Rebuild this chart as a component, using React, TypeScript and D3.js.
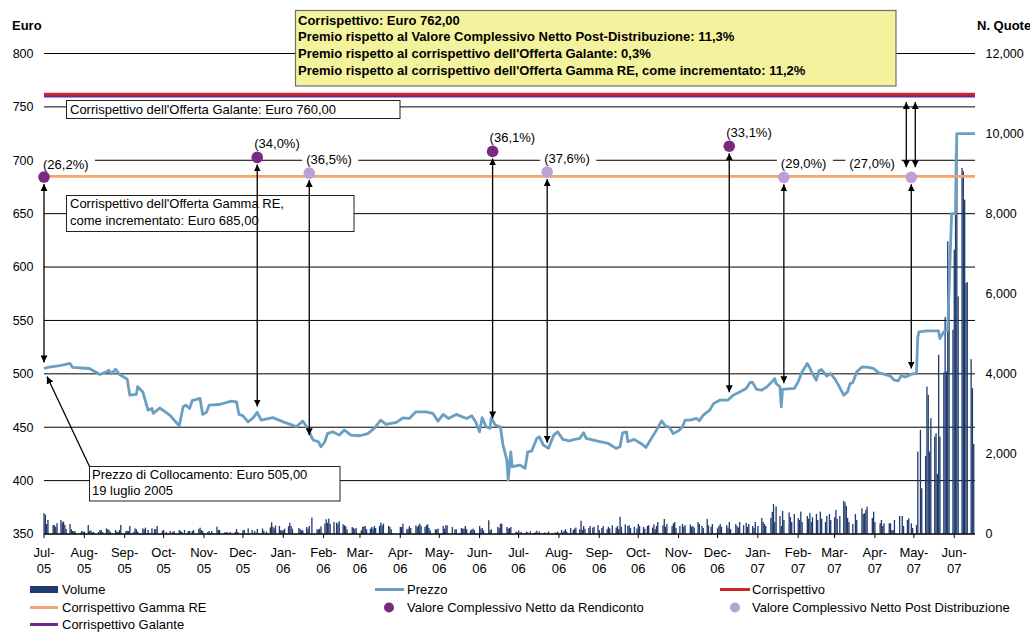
import React from "react";
import * as d3 from "d3";

const W = 1030;
const H = 632;
const FONT = "Arial, 'Liberation Sans', Helvetica, sans-serif";

// ---------- axes ----------
const axisStart = "2005-07-19";
const axisEnd = "2007-07-05";
const leftTicks = [350, 400, 450, 500, 550, 600, 650, 700, 750, 800];
const rightTicks = [0, 2000, 4000, 6000, 8000, 10000, 12000];
const monthTickDates = [
  "2005-07-19", "2005-08-19", "2005-09-19", "2005-10-19", "2005-11-19", "2005-12-19",
  "2006-01-19", "2006-02-19", "2006-03-19", "2006-04-19", "2006-05-19", "2006-06-19",
  "2006-07-19", "2006-08-19", "2006-09-19", "2006-10-19", "2006-11-19", "2006-12-19",
  "2007-01-19", "2007-02-19", "2007-03-19", "2007-04-19", "2007-05-19", "2007-06-19",
];
const monthTickLabels = [
  "Jul-05", "Aug-05", "Sep-05", "Oct-05", "Nov-05", "Dec-05",
  "Jan-06", "Feb-06", "Mar-06", "Apr-06", "May-06", "Jun-06",
  "Jul-06", "Aug-06", "Sep-06", "Oct-06", "Nov-06", "Dec-06",
  "Jan-07", "Feb-07", "Mar-07", "Apr-07", "May-07", "Jun-07",
];

// ---------- price (Euro) ----------
const priceData: [string, number][] = [
  ["2005-07-19", 505], ["2005-07-22", 506], ["2005-08-01", 508], ["2005-08-08", 509.7], ["2005-08-10", 506],
  ["2005-08-23", 505], ["2005-08-31", 499.4], ["2005-09-05", 502], ["2005-09-07", 503.4], ["2005-09-09", 500],
  ["2005-09-12", 504.4], ["2005-09-15", 499.4], ["2005-09-21", 495], ["2005-09-23", 480], ["2005-09-28", 480.7],
  ["2005-09-29", 488], ["2005-10-03", 483], ["2005-10-07", 466], ["2005-10-10", 467.6], ["2005-10-11", 463],
  ["2005-10-16", 468], ["2005-10-24", 461], ["2005-10-31", 451.3], ["2005-11-03", 469], ["2005-11-05", 470.7],
  ["2005-11-08", 467.6], ["2005-11-10", 475], ["2005-11-16", 477], ["2005-11-18", 462], ["2005-11-21", 464],
  ["2005-11-23", 470.7], ["2005-12-01", 471.3], ["2005-12-10", 474.4], ["2005-12-14", 473.8], ["2005-12-16", 462],
  ["2005-12-19", 460.7], ["2005-12-23", 455], ["2005-12-27", 459], ["2005-12-30", 464], ["2006-01-02", 456.6],
  ["2006-01-11", 459], ["2006-01-19", 455], ["2006-01-26", 452], ["2006-01-29", 450.4], ["2006-02-03", 455.7],
  ["2006-02-06", 450.4], ["2006-02-08", 445.7], ["2006-02-11", 438], ["2006-02-15", 436.4], ["2006-02-17", 431.7],
  ["2006-02-20", 436.4], ["2006-02-22", 444], ["2006-02-26", 445.7], ["2006-03-03", 442.6], ["2006-03-07", 447.3],
  ["2006-03-12", 442.6], ["2006-03-19", 442], ["2006-03-25", 444], ["2006-03-30", 448.9], ["2006-04-04", 456.6],
  ["2006-04-08", 452.6], ["2006-04-16", 454.5], ["2006-04-21", 458.8], ["2006-04-26", 458.2], ["2006-05-01", 464.4],
  ["2006-05-09", 464.4], ["2006-05-14", 463], ["2006-05-18", 455.7], ["2006-05-22", 462], ["2006-05-26", 458.2],
  ["2006-06-01", 462], ["2006-06-09", 458.2], ["2006-06-13", 460.7], ["2006-06-16", 455], ["2006-06-19", 445.7],
  ["2006-06-21", 459], ["2006-06-24", 450.4], ["2006-06-27", 448.9], ["2006-06-28", 459], ["2006-07-01", 452],
  ["2006-07-05", 450.4], ["2006-07-07", 433.3], ["2006-07-10", 419.2], ["2006-07-11", 400.5], ["2006-07-13", 427],
  ["2006-07-14", 413], ["2006-07-20", 414.6], ["2006-07-24", 411.5], ["2006-07-26", 427], ["2006-07-29", 427.6],
  ["2006-08-02", 439.5], ["2006-08-04", 441], ["2006-08-07", 433.3], ["2006-08-11", 430.2], ["2006-08-15", 442.6],
  ["2006-08-18", 445.7], ["2006-08-22", 438.6], ["2006-08-27", 437.3], ["2006-08-31", 438.6], ["2006-09-04", 439.5],
  ["2006-09-07", 444.8], ["2006-09-09", 439.5], ["2006-09-17", 437.3], ["2006-09-26", 434.8], ["2006-10-02", 430.2],
  ["2006-10-05", 431.7], ["2006-10-07", 444.8], ["2006-10-10", 445.7], ["2006-10-11", 436.4], ["2006-10-16", 438.6],
  ["2006-10-21", 434.8], ["2006-10-25", 431.1], ["2006-10-28", 437.3], ["2006-11-02", 447.3], ["2006-11-06", 456],
  ["2006-11-09", 451], ["2006-11-12", 449.8], ["2006-11-15", 444], ["2006-11-19", 446.6], ["2006-11-22", 450.4],
  ["2006-11-24", 456.6], ["2006-11-28", 456.6], ["2006-12-03", 458.2], ["2006-12-05", 456], ["2006-12-08", 461.3],
  ["2006-12-13", 466], ["2006-12-16", 472.3], ["2006-12-21", 475.4], ["2006-12-27", 475.4], ["2006-12-31", 480],
  ["2007-01-05", 483.1], ["2007-01-10", 486.3], ["2007-01-13", 491.9], ["2007-01-15", 491.9], ["2007-01-18", 485.4],
  ["2007-01-22", 484.7], ["2007-01-26", 487.8], ["2007-01-31", 494], ["2007-02-01", 495.6], ["2007-02-02", 490.9],
  ["2007-02-05", 487.8], ["2007-02-06", 469.1], ["2007-02-07", 485.4], ["2007-02-16", 486.3], ["2007-02-19", 492.5],
  ["2007-02-22", 501.8], ["2007-02-26", 509.7], ["2007-02-27", 508], ["2007-03-02", 500.3], ["2007-03-05", 494],
  ["2007-03-07", 502.8], ["2007-03-09", 504], ["2007-03-13", 497.8], ["2007-03-16", 500.3], ["2007-03-19", 495.6],
  ["2007-03-22", 489.4], ["2007-03-26", 480], ["2007-03-29", 483.1], ["2007-03-31", 491], ["2007-04-02", 491.6],
  ["2007-04-05", 501.8], ["2007-04-09", 506.5], ["2007-04-14", 506], ["2007-04-18", 505], ["2007-04-22", 500.9],
  ["2007-04-26", 499.7], ["2007-05-01", 497.8], ["2007-05-04", 494], ["2007-05-07", 493.4], ["2007-05-09", 497.8],
  ["2007-05-13", 497.2], ["2007-05-17", 499.7], ["2007-05-21", 500.3], ["2007-05-22", 534.6], ["2007-05-23", 539.3],
  ["2007-05-29", 540.2], ["2007-06-07", 540.2], ["2007-06-08", 533], ["2007-06-11", 539.3], ["2007-06-14", 540.9],
  ["2007-06-17", 650], ["2007-06-20", 650], ["2007-06-21", 725], ["2007-07-05", 725],
];

// ---------- volume (N. Quote), one value per trading day of each month ----------
const volumeMonths = [
  "2005-07", "2005-08", "2005-09", "2005-10", "2005-11", "2005-12",
  "2006-01", "2006-02", "2006-03", "2006-04", "2006-05", "2006-06",
  "2006-07", "2006-08", "2006-09", "2006-10", "2006-11", "2006-12",
  "2007-01", "2007-02", "2007-03", "2007-04", "2007-05", "2007-06", "2007-07",
];
const volumeValues: number[][] = [
  [520, 480, 250, 350, 0, 225, 220, 180, 270],
  [350, 290, 310, 225, 125, 250, 120, 75, 75, 60, 0, 30, 75, 60, 58, 225, 75, 90, 40, 50, 0, 50, 100],
  [100, 50, 140, 120, 100, 50, 0, 100, 60, 50, 100, 225, 0, 75, 80, 75, 200, 50, 140, 120, 60, 0],
  [140, 120, 160, 0, 100, 140, 0, 120, 120, 200, 0, 80, 100, 0, 50, 75, 0, 50, 75, 0, 100],
  [75, 50, 0, 100, 75, 75, 0, 75, 100, 0, 125, 158, 100, 75, 0, 50, 75, 0, 75, 0, 183, 100],
  [100, 0, 40, 45, 40, 0, 50, 0, 50, 125, 50, 0, 100, 100, 0, 0, 140, 100, 0, 75, 0, 125],
  [0, 140, 80, 0, 60, 167, 292, 183, 140, 208, 200, 92, 92, 92, 133, 192, 283, 200, 133, 0, 0, 150],
  [120, 92, 92, 175, 133, 200, 0, 408, 0, 117, 117, 133, 192, 258, 367, 283, 383, 258, 300, 0],
  [283, 258, 317, 242, 217, 192, 117, 0, 175, 150, 117, 150, 0, 92, 175, 192, 200, 117, 133, 175, 133, 200, 150],
  [200, 283, 217, 258, 0, 200, 175, 117, 0, 0, 0, 0, 175, 175, 258, 117, 133, 200, 150, 0],
  [217, 175, 217, 258, 200, 175, 217, 242, 150, 92, 0, 117, 117, 133, 0, 200, 133, 217, 217, 0, 175, 0, 117],
  [117, 0, 150, 133, 133, 200, 117, 92, 117, 133, 92, 0, 200, 133, 150, 92, 0, 342, 92, 117, 0, 0],
  [175, 150, 258, 258, 0, 175, 133, 150, 175, 0, 60, 40, 90, 30, 50, 20, 60, 40, 0, 70, 30],
  [40, 80, 30, 60, 20, 40, 0, 30, 60, 20, 0, 40, 30, 60, 100, 40, 80, 120, 60, 150, 0, 100, 130],
  [160, 120, 333, 100, 200, 130, 150, 200, 0, 160, 180, 220, 100, 0, 150, 200, 120, 180, 140, 0, 220],
  [160, 200, 120, 433, 180, 240, 0, 200, 220, 150, 180, 0, 140, 250, 200, 180, 130, 0, 200, 220, 160, 240],
  [120, 200, 300, 0, 220, 375, 180, 250, 0, 200, 260, 300, 150, 200, 0, 250, 180, 220, 0, 240, 180, 200],
  [160, 300, 250, 0, 200, 150, 375, 220, 0, 180, 250, 0, 140, 200, 250, 180, 0, 220, 160, 300, 120],
  [0, 250, 200, 160, 300, 220, 0, 280, 180, 250, 200, 150, 300, 0, 200, 400, 300, 250, 200, 0, 400, 550, 750],
  [300, 690, 450, 200, 580, 350, 0, 540, 420, 300, 0, 500, 400, 350, 560, 300, 0, 450, 380, 520],
  [300, 420, 500, 350, 0, 560, 380, 300, 450, 0, 500, 350, 420, 600, 380, 0, 450, 830, 790, 700, 400, 300],
  [250, 0, 500, 350, 0, 640, 500, 517, 600, 683, 0, 400, 558, 300, 0, 267, 350, 200, 267, 0, 267],
  [267, 100, 100, 350, 0, 450, 0, 450, 200, 350, 392, 0, 267, 150, 225, 2058, 0, 2600, 1142, 1950, 3683, 3475, 2058],
  [2892, 2433, 2517, 1500, 4475, 2433, 4033, 5417, 4058, 7308, 5850, 5100, 7100, 9500, 9617, 5933, 9142, 9058, 8350, 6267, 6292],
  [4367, 3642, 2250, 0],
];

// ---------- reference levels ----------
const corrispettivo = 762;
const corrispettivoGalante = 760;
const corrispettivoGamma = 685;

// ---------- NAV points ----------
const navRendicontoDates = ["2005-07-19", "2005-12-30", "2006-06-29", "2006-12-28"];
const navRendicontoValues = [684.3, 702.7, 708.3, 713.2];
const navRendicontoDiscount = [26.2, 34.0, 36.1, 33.1];
const navPostDates = ["2006-02-08", "2006-08-10", "2007-02-08", "2007-05-17"];
const navPostValues = [688, 689, 684, 684];
const navPostDiscount = [36.5, 37.6, 29.0, 27.0];

const infoLines = [
  "Corrispettivo: Euro 762,00",
  "Premio rispetto al Valore Complessivo Netto Post-Distribuzione: 11,3%",
  "Premio rispetto al corrispettivo dell'Offerta Galante: 0,3%",
  "Premio rispetto al corrispettivo dell'Offerta Gamma RE, come incrementato: 11,2%",
];

const C = {
  price: "#6A9FC1",
  volume: "#1F3A6D",
  red: "#D3232B",
  purple: "#6C2B8C",
  orange: "#F6A46F",
  darkDot: "#7A2A7E",
  lightDot: "#B9A2D3",
  yellow: "#F5F29E",
};

const fmtPct = (v: number) => "(" + v.toFixed(1).replace(".", ",") + "%)";

export default function App() {
  const parse = d3.utcParse("%Y-%m-%d");
  const x = d3.scaleUtc().domain([parse(axisStart)!, parse(axisEnd)!]).range([44, 975]);
  const yL = d3.scaleLinear().domain([350, 800]).range([534, 53.5]);
  const yR = d3.scaleLinear().domain([0, 12000]).range([534, 53.5]);
  const x0 = x.range()[0];
  const x1 = x.range()[1];

  const bars: { date: Date; v: number }[] = [];
  volumeMonths.forEach((ym, i) => {
    const [yy, mm] = ym.split("-").map(Number);
    const startDay = i === 0 ? 19 : 1;
    const vals = volumeValues[i];
    let k = 0;
    for (let d = startDay; d <= 31 && k < vals.length; d++) {
      const dt = new Date(Date.UTC(yy, mm - 1, d));
      if (dt.getUTCMonth() !== mm - 1) break;
      const wd = dt.getUTCDay();
      if (wd === 0 || wd === 6) continue;
      bars.push({ date: dt, v: vals[k++] });
    }
  });

  const priceLine = d3
    .line<[string, number]>()
    .x((d) => x(parse(d[0])!))
    .y((d) => yL(d[1]))(priceData)!;

  const navPts = [
    ...navRendicontoDates.map((d, i) => ({ date: d, v: navRendicontoValues[i], pct: navRendicontoDiscount[i], dark: true })),
    ...navPostDates.map((d, i) => ({ date: d, v: navPostValues[i], pct: navPostDiscount[i], dark: false })),
  ];
  // label offsets (layout only)
  const labelDx = (p: { date: string }) => (p.date === "2007-05-17" ? -62 : p.date === "2005-07-19" ? -1 : -3);
  const labelDy = (p: { date: string }) => (p.date === "2005-07-19" ? -13 : -14);

  const lastPost = navPts[navPts.length - 1];
  const lpx = x(parse(lastPost.date)!);

  const startX = x(parse(priceData[0][0])!);
  const startY = yL(priceData[0][1]);

  return (
    <svg
      width={W}
      height={H}
      style={{ position: "absolute", left: 0, top: 0, background: "#fff" }}
      fontFamily={FONT}
    >
      <defs>
        <marker id="ah" viewBox="0 0 10 10" refX="10" refY="5" markerWidth="7" markerHeight="7"
          markerUnits="userSpaceOnUse" orient="auto-start-reverse">
          <path d="M0,0 L10,5 L0,10 z" fill="#000" />
        </marker>
      </defs>
      <rect x={0} y={0} width={W} height={H} fill="#fff" />

      {/* gridlines */}
      {leftTicks.map((t) => (
        <line key={"g" + t} x1={x0} x2={x1} y1={yL(t)} y2={yL(t)} stroke="#000" strokeWidth={1} />
      ))}
      {/* left tick labels */}
      {leftTicks.map((t) => (
        <text key={"lt" + t} x={33.5} y={yL(t)} dy="0.35em" textAnchor="end" fontSize={12.5} fill="#000">
          {t}
        </text>
      ))}
      {/* right tick labels */}
      {rightTicks.map((t) => (
        <text key={"rt" + t} x={985.5} y={yR(t)} dy="0.35em" textAnchor="start" fontSize={12.5} fill="#000">
          {d3.format(",")(t)}
        </text>
      ))}
      <text x={12} y={25} dy="0.35em" fontSize={13} fontWeight="bold">Euro</text>
      <text x={977} y={25} dy="0.35em" fontSize={13} fontWeight="bold">N. Quote</text>

      {/* volume bars */}
      {bars.filter((b) => b.v > 0).map((b, i) => (
        <rect key={"b" + i} x={x(b.date) - 0.6} width={1.3} y={yR(b.v)} height={yR(0) - yR(b.v)} fill={C.volume} />
      ))}

      {/* x axis */}
      <line x1={x0} x2={x1} y1={yL(350)} y2={yL(350)} stroke="#000" strokeWidth={1.2} />
      {monthTickDates.map((d, i) => {
        const tx = x(parse(d)!);
        const [m, yy] = monthTickLabels[i].split("-");
        return (
          <g key={"mt" + i}>
            <line x1={tx} x2={tx} y1={534} y2={538} stroke="#000" strokeWidth={1} />
            <text x={tx} y={552.7} dy="0.35em" textAnchor="middle" fontSize={13}>{m + "-"}</text>
            <text x={tx} y={568.7} dy="0.35em" textAnchor="middle" fontSize={13}>{yy}</text>
          </g>
        );
      })}

      {/* price */}
      <path d={priceLine} fill="none" stroke={C.price} strokeWidth={2.8} strokeLinejoin="round" />

      {/* reference levels */}
      <line x1={x0} x2={x1} y1={yL(corrispettivoGalante)} y2={yL(corrispettivoGalante)} stroke={C.purple} strokeWidth={2.6} />
      <line x1={x0} x2={x1} y1={yL(corrispettivo)} y2={yL(corrispettivo)} stroke={C.red} strokeWidth={2.6} />
      <line x1={x0} x2={x1} y1={yL(corrispettivoGamma)} y2={yL(corrispettivoGamma)} stroke={C.orange} strokeWidth={2.8} />

      {/* annotation boxes */}
      <rect x={295.5} y={10.5} width={600.5} height={75.5} fill={C.yellow} stroke="#6f6f6f" strokeWidth={1.2} />
      {infoLines.map((t, i) => (
        <text key={"info" + i} x={298} y={20 + i * 16.7} dy="0.35em" fontSize={13} fontWeight="bold">{t}</text>
      ))}
      <rect x={66.5} y={100.5} width={333.5} height={18} fill="#fff" stroke="#222" strokeWidth={1} />
      <text x={70} y={109.5} dy="0.35em" fontSize={13}>Corrispettivo dell'Offerta Galante: Euro 760,00</text>
      <rect x={66.5} y={195.5} width={287.5} height={36} fill="#fff" stroke="#222" strokeWidth={1} />
      <text x={70} y={203.5} dy="0.35em" fontSize={13}>Corrispettivo dell'Offerta Gamma RE,</text>
      <text x={70} y={220} dy="0.35em" fontSize={13}>come incrementato: Euro 685,00</text>
      <rect x={89.5} y={466.5} width={250.5} height={34.5} fill="#fff" stroke="#222" strokeWidth={1} />
      <text x={92} y={474.7} dy="0.35em" fontSize={13}>Prezzo di Collocamento: Euro 505,00</text>
      <text x={92} y={490.7} dy="0.35em" fontSize={13}>19 luglio 2005</text>
      <line x1={89.5} y1={466.5} x2={startX + 3} y2={startY + 8} stroke="#000" strokeWidth={1.3} markerEnd="url(#ah)" />

      {/* NAV arrows */}
      {navPts.map((p, i) => {
        const px = x(parse(p.date)!);
        const target = p.v * (1 - p.pct / 100);
        return (
          <line key={"ar" + i} x1={px} x2={px} y1={yL(p.v) + 7} y2={yL(target) - 6}
            stroke="#000" strokeWidth={1.3} markerStart="url(#ah)" markerEnd="url(#ah)" />
        );
      })}
      {/* premium arrows to Corrispettivo */}
      <line x1={lpx - 5} x2={lpx - 5} y1={yL(corrispettivo) + 8} y2={yL(corrispettivoGamma) - 9}
        stroke="#000" strokeWidth={1.3} markerStart="url(#ah)" markerEnd="url(#ah)" />
      <line x1={lpx + 4} x2={lpx + 4} y1={yL(corrispettivo) + 8} y2={yL(corrispettivoGamma) - 9}
        stroke="#000" strokeWidth={1.3} markerStart="url(#ah)" markerEnd="url(#ah)" />

      {/* NAV dots + labels */}
      {navPts.map((p, i) => {
        const px = x(parse(p.date)!);
        const py = yL(p.v);
        const tx = px + labelDx(p);
        const ty = py + labelDy(p);
        return (
          <g key={"nav" + i}>
            <rect x={tx - 4} y={ty - 8} width={56} height={16} fill="#fff" />
            <text x={tx} y={ty} dy="0.35em" fontSize={13}>{fmtPct(p.pct)}</text>
            <circle cx={px} cy={py} r={5.8} fill={p.dark ? C.darkDot : C.lightDot} />
          </g>
        );
      })}

      {/* legend */}
      <g fontSize={13}>
        <rect x={30} y={586} width={28} height={7} fill={C.volume} />
        <text x={62} y={589.5} dy="0.35em">Volume</text>
        <line x1={375} x2={404} y1={589.5} y2={589.5} stroke={C.price} strokeWidth={3} />
        <text x={407} y={589.5} dy="0.35em">Prezzo</text>
        <line x1={720} x2={750} y1={589.5} y2={589.5} stroke={C.red} strokeWidth={3} />
        <text x={752} y={589.5} dy="0.35em">Corrispettivo</text>

        <line x1={30} x2={58} y1={607.5} y2={607.5} stroke={C.orange} strokeWidth={3} />
        <text x={62} y={607.5} dy="0.35em">Corrispettivo Gamma RE</text>
        <circle cx={389} cy={607.5} r={5} fill={C.darkDot} />
        <text x={407} y={607.5} dy="0.35em">Valore Complessivo Netto da Rendiconto</text>
        <circle cx={735} cy={607.5} r={5} fill={C.lightDot} />
        <text x={752} y={607.5} dy="0.35em">Valore Complessivo Netto Post Distribuzione</text>

        <line x1={30} x2={58} y1={624.5} y2={624.5} stroke={C.purple} strokeWidth={3} />
        <text x={62} y={624.5} dy="0.35em">Corrispettivo Galante</text>
      </g>
    </svg>
  );
}
